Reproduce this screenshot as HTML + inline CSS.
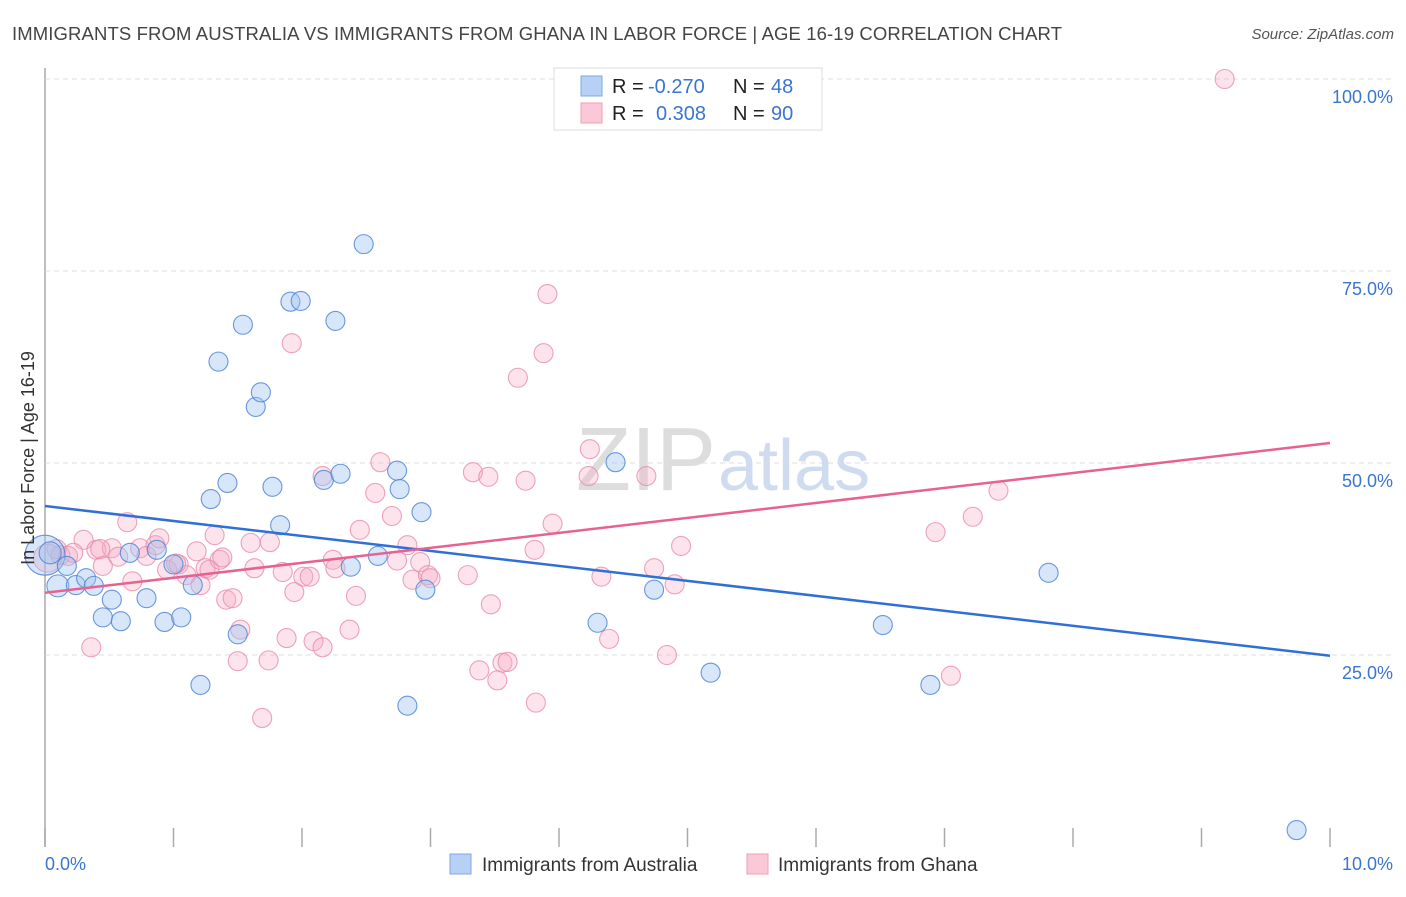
<!DOCTYPE html>
<html><head><meta charset="utf-8"><style>
body{margin:0;background:#fff;font-family:"Liberation Sans",sans-serif}
svg text{font-family:"Liberation Sans",sans-serif}
</style></head><body>
<svg width="1406" height="892">
<text x="12" y="40" font-size="18.5" fill="#444" textLength="1050">IMMIGRANTS FROM AUSTRALIA VS IMMIGRANTS FROM GHANA IN LABOR FORCE | AGE 16-19 CORRELATION CHART</text>
<text x="1394" y="39" font-size="15" fill="#555" font-style="italic" text-anchor="end">Source: ZipAtlas.com</text>
<g id="grid"></g>
<text x="716" y="490" font-size="90" fill="#ddd" text-anchor="end" font-family="Liberation Serif">ZIP</text>
<text x="718" y="490" font-size="72" fill="#cfdcf0">atlas</text>
<g id="pts"></g>
<g id="lines"></g>
<text transform="translate(34,458) rotate(-90)" font-size="18" fill="#333" text-anchor="middle">In Labor Force | Age 16-19</text>
<text x="45" y="870" font-size="18" fill="#3a75d0">0.0%</text>
<text x="1393" y="870" font-size="18" fill="#3a75d0" text-anchor="end">10.0%</text>
<g>
<rect x="554" y="68" width="268" height="62" fill="#fff" stroke="#ddd"/>
<rect x="581" y="76" width="21" height="20" fill="#b7d0f5" stroke="#7fa8e6"/>
<rect x="581" y="103" width="21" height="20" fill="#fbc8d8" stroke="#ef9fb9"/>
<text x="612" y="93" font-size="20" fill="#222">R = <tspan x="648" fill="#3a75d0">-0.270</tspan><tspan x="733">N = </tspan><tspan x="771" fill="#3a75d0">48</tspan></text>
<text x="612" y="120" font-size="20" fill="#222">R = <tspan x="656" fill="#3a75d0">0.308</tspan><tspan x="733">N = </tspan><tspan x="771" fill="#3a75d0">90</tspan></text>
</g>
<g>
<rect x="450" y="854" width="21" height="20" fill="#b7d0f5" stroke="#7fa8e6"/>
<text x="482" y="871" font-size="19" fill="#333">Immigrants from Australia</text>
<rect x="747" y="854" width="21" height="20" fill="#fbc8d8" stroke="#ef9fb9"/>
<text x="778" y="871" font-size="19" fill="#333">Immigrants from Ghana</text>
</g>
</svg>
<script>
const yTicks=[25,50,75,100];
const yTickLabels=["25.0%","50.0%","75.0%","100.0%"];
const xTicks=[0,1,2,3,4,5,6,7,8,9,10];
const ausX=[0.0,0.04,0.10,0.17,0.24,0.32,0.38,0.45,0.52,0.59,0.66,0.79,0.87,0.93,1.00,1.06,1.15,1.21,1.29,1.35,1.42,1.50,1.54,1.64,1.68,1.77,1.83,1.91,1.99,2.17,2.26,2.30,2.38,2.48,2.59,2.74,2.76,2.82,2.93,2.96,4.44,4.30,4.74,5.18,6.52,6.89,7.81,9.74];
const ausY=[38.0,38.3,34.0,36.6,34.1,35.0,34.0,29.9,32.2,29.4,38.3,32.4,38.7,29.3,36.8,29.9,34.1,21.1,45.3,63.2,47.4,27.7,68.0,57.3,59.2,46.9,41.9,71.0,71.1,47.8,68.5,48.6,36.5,78.5,37.9,49.0,46.6,18.4,43.6,33.5,50.1,29.2,33.5,22.7,28.9,21.1,35.7,2.2];
const ghaX=[0.02,0.12,0.18,0.30,0.36,0.40,0.45,0.52,0.57,0.64,0.68,0.74,0.79,0.86,0.89,0.95,1.04,1.10,1.18,1.21,1.25,1.28,1.32,1.36,1.41,1.46,1.52,1.50,1.60,1.63,1.69,1.74,1.75,1.85,1.88,1.92,1.94,2.01,2.06,2.09,2.16,2.16,2.24,2.26,2.37,2.42,2.45,2.57,2.61,2.70,2.82,2.86,2.92,2.98,3.00,3.29,3.33,3.38,3.45,3.47,3.52,3.56,3.60,3.74,3.82,3.81,3.88,3.91,3.95,3.68,4.23,4.24,4.33,4.39,4.68,4.74,4.84,4.90,4.95,6.93,7.05,7.22,7.42,9.18,0.09,0.22,0.43,1.02,1.38,2.74];
const ghaY=[37.6,38.0,37.9,40.0,26.0,38.7,36.6,38.9,37.8,42.3,34.6,38.9,37.9,39.3,40.2,36.1,36.8,35.4,38.5,34.1,36.3,36.1,40.6,37.4,32.2,32.4,28.3,24.2,39.6,36.3,16.8,24.3,39.7,35.8,27.2,65.6,33.2,35.2,35.2,26.8,26.0,48.3,37.4,36.3,28.3,32.7,41.3,46.1,50.1,43.1,39.3,34.8,37.1,35.4,35.0,35.4,48.8,23.0,48.2,31.6,21.7,24.0,24.1,47.7,18.8,38.7,64.3,72.0,42.1,61.1,48.3,51.8,35.2,27.1,48.3,36.3,25.0,34.2,39.2,41.0,22.3,43.0,46.4,100,38.8,38.3,38.8,36.9,37.7,37.3];
const ausTrend=[44.4,24.9];
const ghaTrend=[33.1,52.6];
const sx=v=>45+v*128.5, sy=v=>847-v*7.68;
const NS="http://www.w3.org/2000/svg";
function mk(t,a,p){const e=document.createElementNS(NS,t);for(const k in a)e.setAttribute(k,a[k]);p.appendChild(e);return e;}
const grid=document.getElementById('grid');
mk('line',{x1:45,y1:68,x2:45,y2:847,stroke:'#aaa','stroke-width':1.5},grid);
yTicks.forEach((t,i)=>{
 const l=mk('line',{x1:45,x2:1393,y1:sy(t),y2:sy(t),stroke:'#ddd','stroke-dasharray':'5,4'},grid);
 
 
 const tx=mk('text',{x:1393,y:sy(t)+24,'font-size':18,fill:'#3a75d0','text-anchor':'end'},grid);
 tx.textContent=yTickLabels[i];
 
 
});
xTicks.forEach(t=>{
 const l=mk('line',{x1:sx(t),x2:sx(t),y1:828,y2:847,stroke:'#aaa','stroke-width':1.5},grid);
 
 
});
const pts=document.getElementById('pts');
ghaX.forEach((x,i)=>{
 const c=mk('circle',{cx:sx(x),cy:sy(ghaY[i]),r:i==0?14:9.5,fill:'rgba(245,170,196,0.33)',stroke:'rgba(232,140,172,0.8)','stroke-width':1.1},pts);
 
 
});
ausX.forEach((x,i)=>{
 const c=mk('circle',{cx:sx(x),cy:sy(ausY[i]),r:i==0?20:(i<3?11:9.5),fill:'rgba(160,195,240,0.42)',stroke:'rgba(80,135,215,0.85)','stroke-width':1.1},pts);
 
 
});
const lines=document.getElementById('lines');
const l1=mk('line',{x1:sx(0),y1:sy(ausTrend[0]),x2:sx(10),y2:sy(ausTrend[1]),stroke:'#2f6fd6','stroke-width':2.5},lines);


const l2=mk('line',{x1:sx(0),y1:sy(ghaTrend[0]),x2:sx(10),y2:sy(ghaTrend[1]),stroke:'#e8628f','stroke-width':2.5},lines);


</script>
</body></html>
